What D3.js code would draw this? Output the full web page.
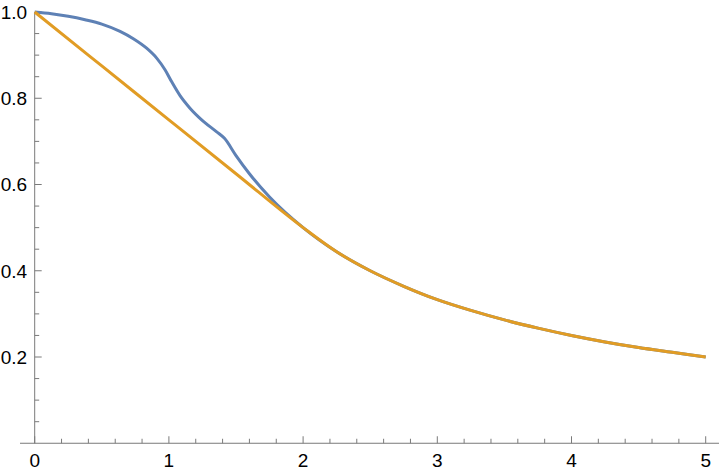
<!DOCTYPE html>
<html>
<head>
<meta charset="utf-8">
<script src="https://cdn.jsdelivr.net/npm/d3@7"></script>
<style>
  html, body { margin: 0; padding: 0; background: #fff; }
  svg { display: block; }
  text { font-family: "Liberation Sans", Arial, sans-serif; fill: #000; }
</style>
</head>
<body>
<svg id="chart" width="720" height="472"></svg>
<script>
// ---- data ----
const blueX = [0, 0.125, 0.25, 0.375, 0.5, 0.636, 0.735, 0.834, 0.909, 0.971, 1.021, 1.083, 1.157, 1.244, 1.356, 1.414, 1.5, 1.6, 1.75, 2, 2.25, 2.5, 2.75, 3, 3.25, 3.5, 3.75, 4, 4.25, 4.5, 4.75, 5];
const blueY = [1.0, 0.996, 0.990, 0.982, 0.972, 0.955, 0.938, 0.916, 0.893, 0.866, 0.838, 0.806, 0.777, 0.750, 0.722, 0.707, 0.667, 0.625, 0.571, 0.5, 0.444, 0.4, 0.364, 0.333, 0.308, 0.286, 0.267, 0.25, 0.235, 0.222, 0.211, 0.2];
const orangeX = [0, 0.5, 1, 1.5, 2, 2.25, 2.5, 2.75, 3, 3.25, 3.5, 3.75, 4, 4.25, 4.5, 4.75, 5];
const orangeY = [1.0, 0.875, 0.75, 0.625, 0.5, 0.444, 0.4, 0.364, 0.333, 0.308, 0.286, 0.267, 0.25, 0.235, 0.222, 0.211, 0.2];
const xTickLabels = ["0", "1", "2", "3", "4", "5"];
const yTickLabels = ["0.2", "0.4", "0.6", "0.8", "1.0"];

// ---- layout ----
const svg = d3.select("#chart");
const x = d3.scaleLinear().domain([0, 5]).range([34.7, 705.7]);
const y = d3.scaleLinear().domain([0, 1]).range([443.25, 12]);
const axisColor = "#7a7a7a";

// x axis line
svg.append("line")
  .attr("x1", 20).attr("x2", 719)
  .attr("y1", y(0)).attr("y2", y(0))
  .attr("stroke", axisColor).attr("stroke-width", 1);
// y axis line
svg.append("line")
  .attr("x1", x(0)).attr("x2", x(0))
  .attr("y1", y(0)).attr("y2", y(1))
  .attr("stroke", axisColor).attr("stroke-width", 1);

// x ticks
const xMinor = d3.range(0, 5.0001, 0.2);
svg.append("g").selectAll("line").data(xMinor).join("line")
  .attr("x1", d => x(d)).attr("x2", d => x(d))
  .attr("y1", y(0))
  .attr("y2", d => y(0) - (Math.abs(d - Math.round(d)) < 1e-6 ? 7 : 4.5))
  .attr("stroke", axisColor).attr("stroke-width", 1);
svg.append("g").selectAll("text").data(xTickLabels).join("text")
  .attr("x", d => x(+d)).attr("y", y(0) + 24)
  .attr("text-anchor", "middle")
  .attr("font-size", 19)
  .text(d => d);

// y ticks
const yMinor = d3.range(0.05, 1.0001, 0.05);
svg.append("g").selectAll("line").data(yMinor).join("line")
  .attr("x1", x(0))
  .attr("x2", d => x(0) + (Math.abs(d * 5 - Math.round(d * 5)) < 1e-6 ? 7 : 4.5))
  .attr("y1", d => y(d)).attr("y2", d => y(d))
  .attr("stroke", axisColor).attr("stroke-width", 1);
svg.append("g").selectAll("text").data(yTickLabels).join("text")
  .attr("x", x(0) - 7.5).attr("y", d => y(+d))
  .attr("dy", "0.36em")
  .attr("text-anchor", "end")
  .attr("font-size", 19)
  .text(d => d);

// lines
const line = d3.line().x(d => x(d[0])).y(d => y(d[1])).curve(d3.curveMonotoneX);
svg.append("path")
  .datum(blueX.map((v, i) => [v, blueY[i]]))
  .attr("d", line)
  .attr("fill", "none").attr("stroke", "#5E81B5").attr("stroke-width", 3);
svg.append("path")
  .datum(orangeX.map((v, i) => [v, orangeY[i]]))
  .attr("d", line)
  .attr("fill", "none").attr("stroke", "#E19C24").attr("stroke-width", 3);
</script>
</body>
</html>
